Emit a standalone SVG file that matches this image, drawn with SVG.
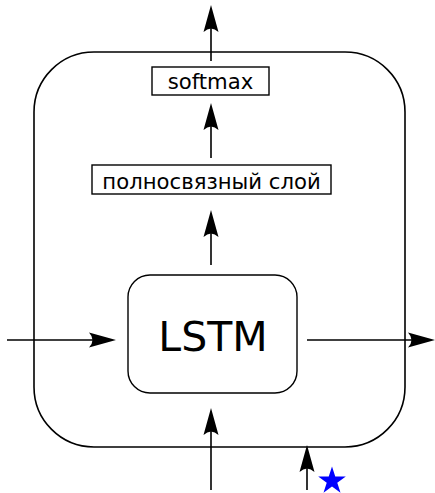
<svg xmlns="http://www.w3.org/2000/svg" width="435" height="493" viewBox="0 0 435 493">
  <style>
    .frame { fill: none; stroke: #000; stroke-width: 1.6; }
    .box { fill: #fff; stroke: #000; stroke-width: 1.4; }
    .wire { fill: none; stroke: #000; stroke-width: 1.6; marker-end: url(#head); }
    .label { font-family: "DejaVu Sans", sans-serif; fill: #000; text-anchor: middle; }
  </style>
  <defs>
    <marker id="head" markerUnits="userSpaceOnUse" markerWidth="30" markerHeight="18" viewBox="0 -9 30 18" refX="17" refY="0" orient="auto" overflow="visible">
      <path d="M0,-7.5 L27,0 L0,7.5 Q7,0 0,-7.5 Z" fill="#000"/>
    </marker>
  </defs>

  <!-- outer cell boundary -->
  <g id="cell">
    <rect class="frame" x="34" y="52" width="371" height="395" rx="60" ry="60"/>
  </g>

  <!-- connectors -->
  <g id="connectors">
    <line class="wire" x1="211" y1="61" x2="211" y2="15"/>
    <line class="wire" x1="211" y1="158" x2="211" y2="113"/>
    <line class="wire" x1="211" y1="265" x2="211" y2="220"/>
    <line class="wire" x1="7" y1="340" x2="106" y2="340"/>
    <line class="wire" x1="307" y1="340" x2="425" y2="340"/>
    <line class="wire" x1="211" y1="490" x2="211" y2="418"/>
    <line class="wire" x1="307" y1="490" x2="307" y2="455"/>
  </g>

  <g id="softmax">
    <rect class="box" x="152" y="67" width="117" height="28"/>
    <text class="label" x="210.5" y="89" font-size="21.2">softmax</text>
  </g>

  <g id="dense">
    <rect class="box" x="92" y="165" width="239" height="29"/>
    <text class="label" x="211.5" y="189" font-size="21.2">полносвязный слой</text>
  </g>

  <g id="lstm">
    <rect class="box" x="128" y="275" width="169" height="118" rx="22" ry="22"/>
    <text class="label" x="213" y="351" font-size="41">LSTM</text>
  </g>

  <g id="star">
    <polygon fill="#0000ff" points="332,466.5 335.26,476.52 345.79,476.52 337.27,482.71 340.52,492.73 332,486.54 323.48,492.73 326.73,482.71 318.21,476.52 328.74,476.52"/>
  </g>
</svg>
